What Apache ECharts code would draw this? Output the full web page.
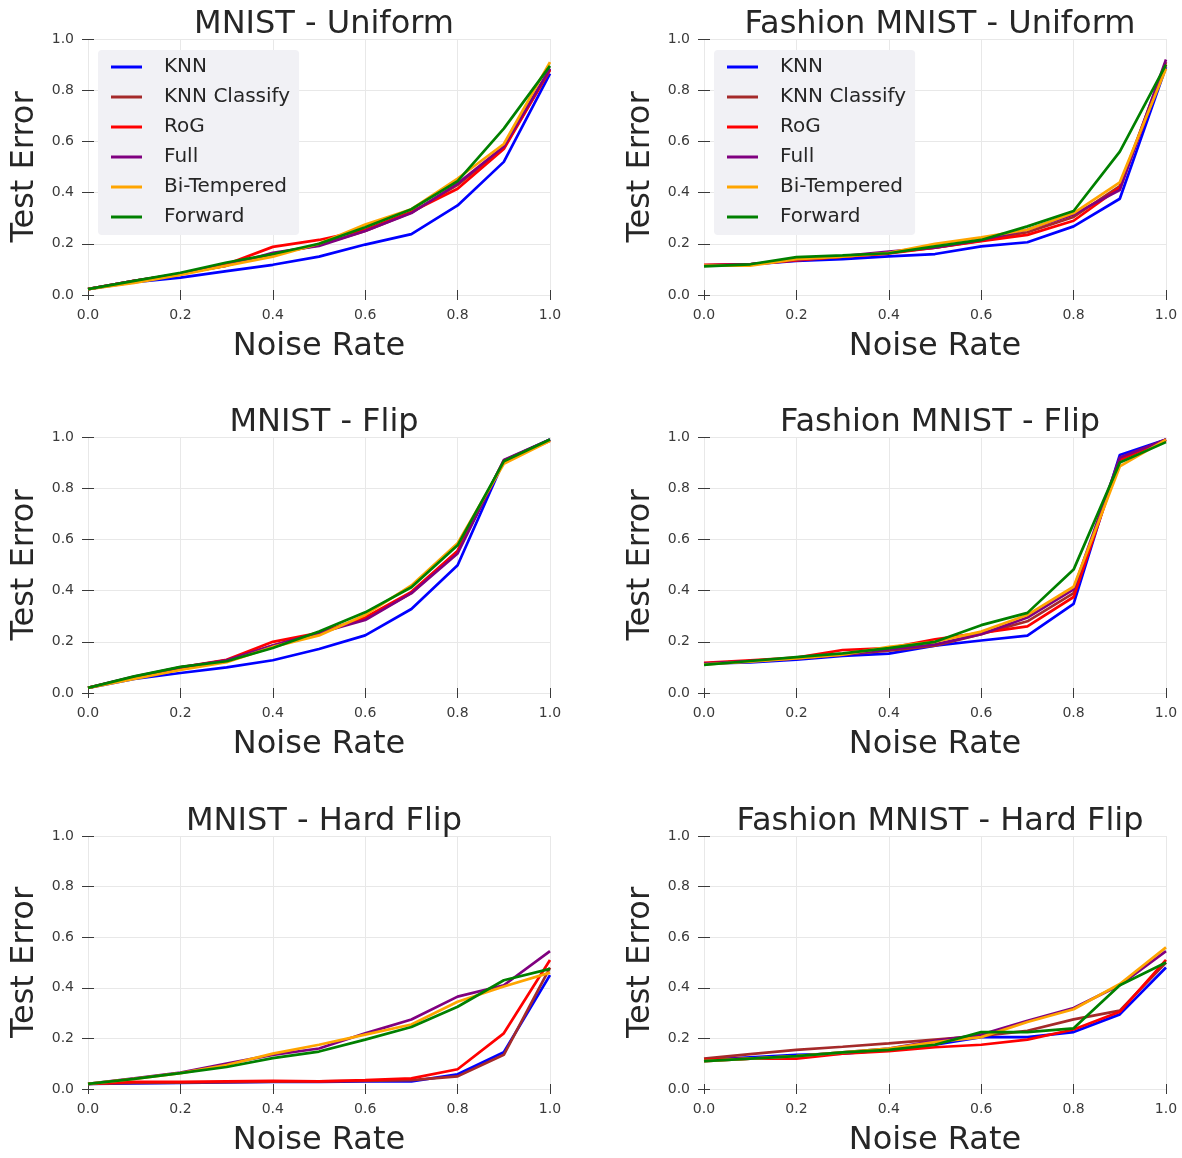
<!DOCTYPE html>
<html>
<head>
<meta charset="utf-8">
<script src="https://cdn.jsdelivr.net/npm/echarts@6/dist/echarts.min.js"></script>
<style>
  html, body { margin: 0; padding: 0; background: #fff; }
  #chart { width: 1182px; height: 1158px; }
</style>
</head>
<body>
<div id="chart"></div>
<script>
// noise rates on the x axis
const noiseRates = [0, 0.1, 0.2, 0.3, 0.4, 0.5, 0.6, 0.7, 0.8, 0.9, 1.0]
const methods = ['KNN', 'KNN Classify', 'RoG', 'Full', 'Bi-Tempered', 'Forward']
const panelTitles = ['MNIST - Uniform', 'Fashion MNIST - Uniform', 'MNIST - Flip', 'Fashion MNIST - Flip', 'MNIST - Hard Flip', 'Fashion MNIST - Hard Flip']

// test error per method, rows follow `methods`
const mnistUniform = [
  [0.023, 0.050, 0.068, 0.093, 0.118, 0.150, 0.197, 0.238, 0.350, 0.520, 0.865],
  [0.023, 0.055, 0.083, 0.115, 0.160, 0.195, 0.250, 0.322, 0.430, 0.575, 0.880],
  [0.023, 0.055, 0.083, 0.120, 0.188, 0.215, 0.255, 0.325, 0.415, 0.570, 0.880],
  [0.023, 0.055, 0.083, 0.115, 0.165, 0.192, 0.250, 0.320, 0.435, 0.580, 0.885],
  [0.023, 0.047, 0.078, 0.115, 0.150, 0.200, 0.275, 0.335, 0.455, 0.590, 0.910],
  [0.023, 0.055, 0.087, 0.127, 0.160, 0.200, 0.265, 0.335, 0.445, 0.650, 0.895]
]
const fashionUniform = [
  [0.116, 0.120, 0.133, 0.140, 0.151, 0.160, 0.190, 0.206, 0.268, 0.376, 0.890],
  [0.116, 0.120, 0.137, 0.150, 0.165, 0.185, 0.212, 0.245, 0.305, 0.425, 0.910],
  [0.118, 0.120, 0.135, 0.150, 0.162, 0.185, 0.210, 0.235, 0.290, 0.420, 0.900],
  [0.115, 0.120, 0.138, 0.152, 0.170, 0.185, 0.215, 0.255, 0.315, 0.410, 0.920],
  [0.115, 0.115, 0.140, 0.150, 0.165, 0.200, 0.225, 0.255, 0.320, 0.440, 0.885],
  [0.112, 0.120, 0.148, 0.155, 0.163, 0.190, 0.215, 0.268, 0.328, 0.560, 0.900]
]
const mnistFlip = [
  [0.020, 0.055, 0.078, 0.100, 0.128, 0.172, 0.225, 0.328, 0.499, 0.907, 0.990],
  [0.020, 0.062, 0.098, 0.128, 0.185, 0.235, 0.290, 0.390, 0.555, 0.908, 0.988],
  [0.020, 0.062, 0.100, 0.130, 0.200, 0.235, 0.295, 0.395, 0.555, 0.905, 0.985],
  [0.020, 0.064, 0.100, 0.128, 0.185, 0.235, 0.285, 0.390, 0.545, 0.910, 0.990],
  [0.020, 0.055, 0.090, 0.120, 0.180, 0.225, 0.305, 0.420, 0.585, 0.895, 0.985],
  [0.020, 0.065, 0.102, 0.124, 0.176, 0.240, 0.315, 0.413, 0.577, 0.905, 0.990]
]
const fashionFlip = [
  [0.115, 0.120, 0.130, 0.145, 0.154, 0.185, 0.205, 0.224, 0.348, 0.930, 0.990],
  [0.115, 0.125, 0.135, 0.150, 0.165, 0.185, 0.230, 0.280, 0.390, 0.915, 0.985],
  [0.118, 0.128, 0.138, 0.168, 0.175, 0.210, 0.235, 0.260, 0.375, 0.910, 0.990],
  [0.115, 0.125, 0.135, 0.150, 0.170, 0.190, 0.230, 0.295, 0.405, 0.920, 0.990],
  [0.112, 0.122, 0.135, 0.150, 0.180, 0.200, 0.240, 0.305, 0.415, 0.885, 0.990],
  [0.110, 0.125, 0.140, 0.155, 0.175, 0.200, 0.265, 0.313, 0.482, 0.900, 0.980]
]
const mnistHardFlip = [
  [0.020, 0.022, 0.024, 0.026, 0.028, 0.028, 0.030, 0.030, 0.058, 0.145, 0.450],
  [0.020, 0.024, 0.025, 0.027, 0.029, 0.030, 0.032, 0.035, 0.050, 0.135, 0.480],
  [0.020, 0.028, 0.028, 0.030, 0.032, 0.030, 0.035, 0.042, 0.078, 0.220, 0.510],
  [0.020, 0.042, 0.065, 0.100, 0.135, 0.160, 0.220, 0.275, 0.365, 0.410, 0.545],
  [0.020, 0.040, 0.063, 0.095, 0.140, 0.175, 0.215, 0.255, 0.345, 0.405, 0.460],
  [0.020, 0.040, 0.063, 0.087, 0.122, 0.148, 0.195, 0.245, 0.325, 0.430, 0.475]
]
const fashionHardFlip = [
  [0.115, 0.125, 0.135, 0.140, 0.155, 0.175, 0.205, 0.205, 0.225, 0.295, 0.480],
  [0.120, 0.138, 0.155, 0.167, 0.180, 0.195, 0.210, 0.230, 0.275, 0.310, 0.500],
  [0.115, 0.120, 0.120, 0.140, 0.150, 0.165, 0.175, 0.195, 0.235, 0.305, 0.510],
  [0.110, 0.120, 0.130, 0.145, 0.160, 0.190, 0.215, 0.270, 0.320, 0.410, 0.545],
  [0.110, 0.120, 0.130, 0.145, 0.160, 0.185, 0.205, 0.265, 0.315, 0.415, 0.560],
  [0.110, 0.120, 0.130, 0.145, 0.155, 0.175, 0.225, 0.225, 0.240, 0.410, 0.500]
]
const panels = [mnistUniform, fashionUniform, mnistFlip, fashionFlip, mnistHardFlip, fashionHardFlip]

const colors = ['#0000ff', '#a52a2a', '#ff0000', '#800080', '#ffa500', '#008000']
const font = 'DejaVu Sans'
const tickColor = '#3a3a3a'

// plot rectangles (left/top), all the same size
const cols = [88, 704]
const rows = [39, 437, 836]
const plotW = 462
const plotH = 256

const grid = []
const xAxis = []
const yAxis = []
const title = []
const series = []

panels.forEach((panel, p) => {
  const left = cols[p % 2]
  const top = rows[Math.floor(p / 2)]
  grid.push({ left, top, width: plotW, height: plotH })

  title.push({
    text: panelTitles[p],
    left: left + plotW / 2,
    top: top - 35,
    textAlign: 'center',
    textStyle: { fontFamily: font, fontSize: 32, fontWeight: 'normal', color: '#262626' }
  })

  // bottom x axis with labels + name
  xAxis.push({
    type: 'value', gridIndex: p, min: 0, max: 1, interval: 0.2,
    name: 'Noise Rate', nameLocation: 'middle', nameGap: 36,
    nameTextStyle: { fontFamily: font, fontSize: 32, color: '#262626' },
    axisLine: { show: false },
    axisTick: { show: true, length: 5, lineStyle: { color: tickColor } },
    axisLabel: { fontFamily: font, fontSize: 14, color: '#3a3a3a', margin: 13,
      formatter: v => v.toFixed(1) },
    splitLine: { show: true, lineStyle: { color: '#e8e8e8', width: 1 } }
  })
  // top x axis, ticks only
  xAxis.push({
    type: 'value', gridIndex: p, position: 'top', min: 0, max: 1, interval: 0.2,
    axisLine: { show: false },
    axisTick: { show: true, length: 5, lineStyle: { color: tickColor } },
    axisLabel: { show: false },
    splitLine: { show: false }
  })
  yAxis.push({
    type: 'value', gridIndex: p, min: 0, max: 1, interval: 0.2,
    name: 'Test Error', nameLocation: 'middle', nameGap: 47,
    nameTextStyle: { fontFamily: font, fontSize: 32, color: '#262626' },
    axisLine: { show: false },
    axisTick: { show: true, length: 6, lineStyle: { color: tickColor } },
    axisLabel: { fontFamily: font, fontSize: 14, color: '#3a3a3a', margin: 14,
      formatter: v => v.toFixed(1) },
    splitLine: { show: true, lineStyle: { color: '#e8e8e8', width: 1 } }
  })
  yAxis.push({
    type: 'value', gridIndex: p, position: 'right', min: 0, max: 1, interval: 0.2,
    axisLine: { show: false },
    axisTick: { show: true, length: 6, lineStyle: { color: tickColor } },
    axisLabel: { show: false },
    splitLine: { show: false }
  })

  panel.forEach((vals, m) => {
    series.push({
      type: 'line',
      name: methods[m],
      xAxisIndex: p * 2,
      yAxisIndex: p * 2,
      data: noiseRates.map((x, i) => [x, vals[i]]),
      symbol: 'none',
      color: colors[m],
      lineStyle: { width: 2.7, color: colors[m] },
      z: 2 + m,
      animation: false
    })
  })
})

// legends in the two top panels
const legend = [0, 1].map(c => ({
  data: methods,
  orient: 'vertical',
  left: cols[c] + 10,
  top: 50,
  padding: [6, 9, 7, 13],
  itemGap: 8,
  icon: 'rect',
  itemWidth: 31,
  itemHeight: 3,
  backgroundColor: '#f1f1f5',
  borderRadius: 4,
  selectedMode: false,
  textStyle: { fontFamily: font, fontSize: 20, color: '#262626', lineHeight: 22, padding: [0, 0, 0, 17] }
}))

const chart = echarts.init(document.getElementById('chart'), null, { renderer: 'canvas' })
chart.setOption({
  backgroundColor: '#fff',
  animation: false,
  title,
  legend,
  grid,
  xAxis,
  yAxis,
  series
})
</script>
</body>
</html>
